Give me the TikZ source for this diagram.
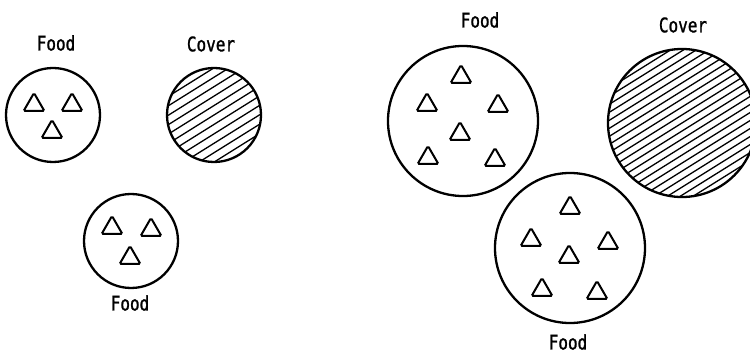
\documentclass[tikz,border=0pt]{standalone}
\usepackage{fontspec}
\newfontfamily\lblfont[FakeStretch=0.8,FakeBold=1.3]{DejaVu Sans Mono}
\usetikzlibrary{shapes.geometric}
\tikzset{
  plate/.style={circle, draw, line width=2.3pt, inner sep=0pt},
  tri/.style={regular polygon, regular polygon sides=3, draw, line width=2pt, rounded corners=1.5pt, inner sep=0pt, minimum size=24pt},
  lbl/.style={font=\lblfont\fontsize{20}{20}\selectfont, inner sep=0pt},
  hatch/.style={line width=1.3pt}
}
\begin{document}
\begin{tikzpicture}[x=1pt,y=-1pt]
\useasboundingbox (0,0) rectangle (750,355);
% ---- left group ----
\node[lbl] (lf1) at (56,43) {Food};
\node[lbl] (lc1) at (211,44) {Cover};
\node[lbl] (lf2) at (130,303) {Food};
\node[plate, minimum size=94pt] (f1) at (53,115) {};
\node[tri] (t11) at (34,105) {};
\node[tri] (t12) at (72,105) {};
\node[tri] (t13) at (52,132) {};
\node[plate, minimum size=94pt] (f2) at (131,241) {};
\node[tri] (t21) at (112,228) {};
\node[tri] (t22) at (151,230) {};
\node[tri] (t23) at (130,258) {};
\begin{scope}
  \clip (214,115) circle (47);
  \begin{scope}[shift={(214,115)}, rotate=32]
    \foreach \k in {-7,...,7} \draw[hatch] (-80,\k*8) -- (80,\k*8);
  \end{scope}
\end{scope}
\node[plate, minimum size=94pt] (c1) at (214,115) {};
% ---- right group ----
\node[lbl] (lf3) at (480,20) {Food};
\node[lbl] (lc2) at (683,25) {Cover};
\node[lbl] (lf4) at (568,342) {Food};
\node[plate, minimum size=150pt] (f3) at (463,121) {};
\node[tri] (t31) at (461,77) {};
\node[tri] (t32) at (427,105) {};
\node[tri] (t33) at (498,106) {};
\node[tri] (t34) at (460,134) {};
\node[tri] (t35) at (428,158) {};
\node[tri] (t36) at (495,160) {};
\begin{scope}
  \clip (682,123) circle (74);
  \begin{scope}[shift={(682,123)}, rotate=32]
    \foreach \k in {-12,...,12} \draw[hatch] (-100,\k*6.8) -- (100,\k*6.8);
  \end{scope}
\end{scope}
\node[plate, minimum size=148pt] (c2) at (682,123) {};
\node[plate, minimum size=150pt] (f4) at (570,248) {};
\node[tri] (t41) at (570,208) {};
\node[tri] (t42) at (531,240) {};
\node[tri] (t43) at (608,243) {};
\node[tri] (t44) at (569,257) {};
\node[tri] (t45) at (542,290) {};
\node[tri] (t46) at (597,293) {};
\end{tikzpicture}
\end{document}
